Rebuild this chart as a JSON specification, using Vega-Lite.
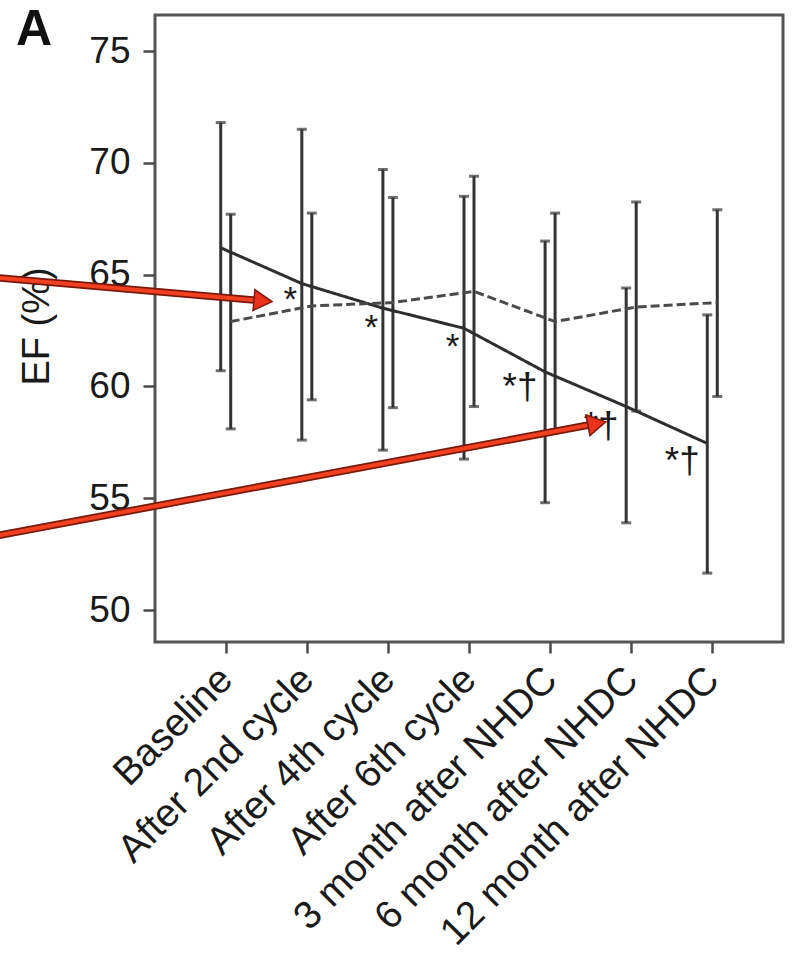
{
  "$schema": "https://vega.github.io/schema/vega-lite/v6.json",
  "autosize": {"type": "none"},
  "padding": {"left": 155, "top": 15, "right": 9, "bottom": 313},
  "width": 628,
  "height": 627,
  "background": "white",
  "config": {"view": {"stroke": "#555555", "strokeWidth": 3}, "font": "Liberation Sans"},
  "title": {"text": "A", "anchor": "start", "frame": "group", "orient": "top", "fontSize": 50, "fontWeight": "bold", "font": "Liberation Sans", "color": "#111111", "dx": -139, "offset": -40},
  "datasets": {
    "ef": [
      {"cat": "Baseline", "grp": "solid", "mean": 66.2, "lo": 60.7, "hi": 71.8},
      {"cat": "Baseline", "grp": "dashed", "mean": 62.9, "lo": 58.1, "hi": 67.7},
      {"cat": "After 2nd cycle", "grp": "solid", "mean": 64.6, "lo": 57.6, "hi": 71.5},
      {"cat": "After 2nd cycle", "grp": "dashed", "mean": 63.6, "lo": 59.4, "hi": 67.75},
      {"cat": "After 4th cycle", "grp": "solid", "mean": 63.5, "lo": 57.15, "hi": 69.7},
      {"cat": "After 4th cycle", "grp": "dashed", "mean": 63.75, "lo": 59.05, "hi": 68.45},
      {"cat": "After 6th cycle", "grp": "solid", "mean": 62.6, "lo": 56.75, "hi": 68.5},
      {"cat": "After 6th cycle", "grp": "dashed", "mean": 64.25, "lo": 59.1, "hi": 69.4},
      {"cat": "3 month after NHDC", "grp": "solid", "mean": 60.65, "lo": 54.8, "hi": 66.5},
      {"cat": "3 month after NHDC", "grp": "dashed", "mean": 62.9, "lo": 58.05, "hi": 67.75},
      {"cat": "6 month after NHDC", "grp": "solid", "mean": 59.1, "lo": 53.9, "hi": 64.4},
      {"cat": "6 month after NHDC", "grp": "dashed", "mean": 63.55, "lo": 58.9, "hi": 68.25},
      {"cat": "12 month after NHDC", "grp": "solid", "mean": 57.45, "lo": 51.65, "hi": 63.2},
      {"cat": "12 month after NHDC", "grp": "dashed", "mean": 63.75, "lo": 59.55, "hi": 67.9}
    ],
    "marks": [
      {"cat": "After 2nd cycle", "label": "*", "v": 63.37},
      {"cat": "After 4th cycle", "label": "*", "v": 62.11},
      {"cat": "After 6th cycle", "label": "*", "v": 61.28},
      {"cat": "3 month after NHDC", "label": "*†", "v": 59.42},
      {"cat": "6 month after NHDC", "label": "*†", "v": 57.71},
      {"cat": "12 month after NHDC", "label": "*†", "v": 56.14}
    ],
    "arrows": [
      {"a": 1, "i": -2.9, "v": 64.88},
      {"a": 1, "i": 0.448, "v": 63.83},
      {"a": 2, "i": -2.9, "v": 53.28},
      {"a": 2, "i": 4.565, "v": 58.34}
    ],
    "heads": [
      {"a": 1, "i": 0.448, "v": 63.83},
      {"a": 2, "i": 4.565, "v": 58.34}
    ]
  },
  "layer": [
    {
      "data": {"name": "ef"},
      "encoding": {
        "x": {
          "field": "cat", "type": "ordinal",
          "scale": {"type": "point", "domain": ["Baseline", "After 2nd cycle", "After 4th cycle", "After 6th cycle", "3 month after NHDC", "6 month after NHDC", "12 month after NHDC"], "padding": 0.872},
          "axis": {"title": null, "labelAngle": -45, "labelAlign": "right", "labelBaseline": "middle", "labelFontSize": 39, "labelFont": "Liberation Sans", "labelColor": "#1a1a1a", "labelLimit": 600, "labelPadding": 20, "tickSize": 11, "tickWidth": 2.5, "tickColor": "#4a4a4a", "domain": false, "grid": false}
        },
        "y": {
          "type": "quantitative",
          "scale": {"domain": [48.57, 76.61], "nice": false, "zero": false},
          "axis": {"title": "EF (%)", "values": [50, 55, 60, 65, 70, 75], "labelFontSize": 37, "labelFont": "Liberation Sans", "labelColor": "#1a1a1a", "labelPadding": 13, "tickSize": 12, "tickWidth": 2.5, "tickColor": "#4a4a4a", "domain": false, "grid": false, "titleFontSize": 38, "titleFont": "Liberation Sans", "titleFontWeight": "normal", "titleColor": "#1a1a1a", "titleX": -107, "titleY": 311, "titleBaseline": "alphabetic", "titleAlign": "center"}
        }
      },
      "layer": [
        {
          "mark": {"type": "rule", "color": "#333333", "strokeWidth": 3},
          "encoding": {
            "xOffset": {"field": "grp", "type": "nominal", "scale": {"domain": ["solid", "dashed"], "range": [-5, 5], "paddingInner": 1, "paddingOuter": 0}},
            "y": {"field": "lo", "type": "quantitative"},
            "y2": {"field": "hi"}
          }
        },
        {
          "mark": {"type": "tick", "color": "#333333", "size": 10, "thickness": 3},
          "encoding": {
            "xOffset": {"field": "grp", "type": "nominal", "scale": {"domain": ["solid", "dashed"], "range": [-5, 5], "paddingInner": 1, "paddingOuter": 0}},
            "y": {"field": "hi", "type": "quantitative"}
          }
        },
        {
          "mark": {"type": "tick", "color": "#333333", "size": 10, "thickness": 3},
          "encoding": {
            "xOffset": {"field": "grp", "type": "nominal", "scale": {"domain": ["solid", "dashed"], "range": [-5, 5], "paddingInner": 1, "paddingOuter": 0}},
            "y": {"field": "lo", "type": "quantitative"}
          }
        },
        {
          "mark": {"type": "line", "strokeWidth": 3},
          "encoding": {
            "xOffset": {"field": "grp", "type": "nominal", "scale": {"domain": ["solid", "dashed"], "range": [-5, 5], "paddingInner": 1, "paddingOuter": 0}},
            "y": {"field": "mean", "type": "quantitative"},
            "color": {"field": "grp", "type": "nominal", "scale": {"domain": ["solid", "dashed"], "range": ["#2e2e2e", "#4a4a4a"]}, "legend": null},
            "strokeDash": {"field": "grp", "type": "nominal", "scale": {"domain": ["solid", "dashed"], "range": [[1, 0], [9, 4]]}, "legend": null}
          }
        },
        {
          "data": {"name": "marks"},
          "transform": [{"filter": "datum.label == '*'"}],
          "mark": {"type": "text", "font": "Liberation Sans", "fontSize": 35, "align": "center", "baseline": "alphabetic", "dx": -16.5, "color": "#1a1a1a"},
          "encoding": {
            "y": {"field": "v", "type": "quantitative"},
            "text": {"field": "label"}
          }
        },
        {
          "data": {"name": "marks"},
          "transform": [{"filter": "datum.label != '*'"}],
          "mark": {"type": "text", "font": "Liberation Sans", "fontSize": 37, "align": "center", "baseline": "alphabetic", "dx": -30, "color": "#1a1a1a"},
          "encoding": {
            "y": {"field": "v", "type": "quantitative"},
            "text": {"field": "label"}
          }
        }
      ]
    },
    {
      "encoding": {
        "x": {"field": "i", "type": "quantitative", "scale": {"domain": [-0.884, 6.86], "nice": false, "zero": false}, "axis": null},
        "y": {"field": "v", "type": "quantitative"}
      },
      "layer": [
        {
          "data": {"name": "arrows"},
          "mark": {"type": "line", "color": "#7a180c", "strokeWidth": 7.5, "clip": false},
          "encoding": {"detail": {"field": "a", "type": "nominal"}}
        },
        {
          "data": {"name": "arrows"},
          "mark": {"type": "line", "color": "#f0401f", "strokeWidth": 4, "clip": false},
          "encoding": {"detail": {"field": "a", "type": "nominal"}}
        },
        {
          "data": {"name": "heads"},
          "transform": [{"filter": "datum.a == 1"}],
          "mark": {"type": "point", "shape": "triangle-right", "filled": true, "fill": "#e8321b", "stroke": "#7a180c", "strokeWidth": 1.5, "size": 440, "angle": 5, "opacity": 1},
          "encoding": {}
        },
        {
          "data": {"name": "heads"},
          "transform": [{"filter": "datum.a == 2"}],
          "mark": {"type": "point", "shape": "triangle-right", "filled": true, "fill": "#e8321b", "stroke": "#7a180c", "strokeWidth": 1.5, "size": 440, "angle": 349.4, "opacity": 1},
          "encoding": {}
        }
      ]
    }
  ],
  "resolve": {"scale": {"x": "independent"}}
}
